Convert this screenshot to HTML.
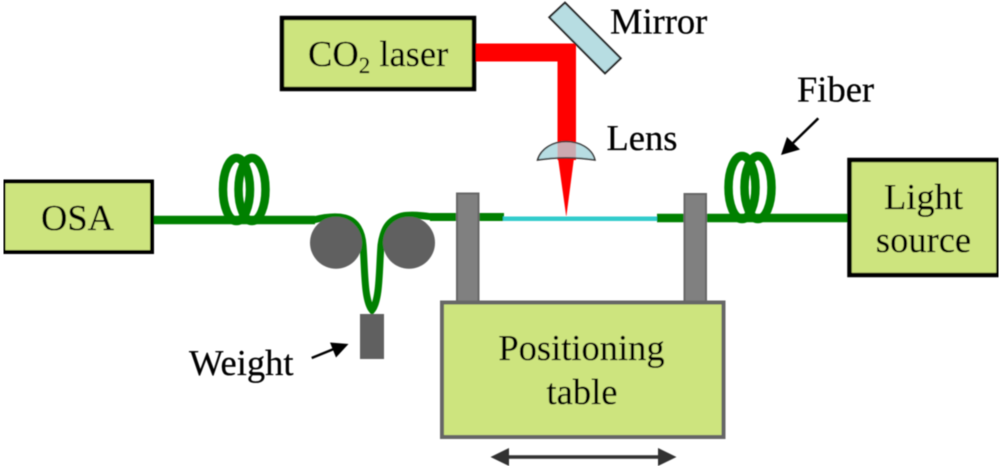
<!DOCTYPE html>
<html>
<head>
<meta charset="utf-8">
<style>
html,body{margin:0;padding:0;background:#fff;}
svg{display:block;}
text{font-family:"Liberation Serif",serif;font-size:36.5px;fill:#000;stroke:#000;stroke-width:0.25px;text-rendering:geometricPrecision;}
</style>
</head>
<body>
<svg width="1000" height="467" viewBox="0 0 1000 467" xmlns="http://www.w3.org/2000/svg">
<defs>
<clipPath id="lc"><path d="M537.5 160 C541 148 554 141.5 566 141.5 C579 141.5 592 148 595 160 C575 157 557 157 537.5 160 Z"/></clipPath>
<filter id="b" x="0" y="0" width="100%" height="100%"><feGaussianBlur stdDeviation="0.45"/></filter>
</defs>
<g filter="url(#b)">
<!-- fibers -->
<path d="M153 220 H315" stroke="#008000" stroke-width="8.5" fill="none"/>
<path d="M313 220 C325 217 337 216 345 218 C357 221 362 232 363 245 C365 270 364 300 372 310 C380 300 379 270 381 245 C383 230 388 220 402 216 C412 214 425 216 433 217" stroke="#008000" stroke-width="7" fill="none"/>
<path d="M430 217 H504" stroke="#008000" stroke-width="8" fill="none"/>
<path d="M657 218 H848" stroke="#008000" stroke-width="8.5" fill="none"/>
<path d="M503 218.7 H657" stroke="#33cccc" stroke-width="4.5" fill="none"/>
<!-- coils -->
<g fill="none" stroke="#008000" stroke-width="8.5">
<ellipse cx="236.5" cy="189.5" rx="13.5" ry="31.5"/>
<ellipse cx="252" cy="189.5" rx="13.5" ry="31.5"/>
<ellipse cx="742" cy="187.5" rx="13.5" ry="31.5"/>
<ellipse cx="758" cy="187.5" rx="13.5" ry="31.5"/>
</g>
<!-- rollers and weight -->
<circle cx="336" cy="242.7" r="26" fill="#606060"/>
<circle cx="409" cy="242.7" r="26" fill="#606060"/>
<rect x="360" y="314" width="24" height="45" fill="#606060"/>
<path d="M311.7 358 L335 348.5" stroke="#000" stroke-width="2.5" fill="none"/>
<polygon points="348.5,344 330,342.5 336,357.5" fill="#000"/>
<!-- Fiber arrow -->
<path d="M818.3 118.3 L793 143" stroke="#000" stroke-width="2.5" fill="none"/>
<polygon points="781,155 787,137 800,149.5" fill="#000"/>
<!-- posts -->
<rect x="457" y="193.5" width="21.5" height="108" fill="#808080" stroke="#666" stroke-width="2"/>
<rect x="684.5" y="194" width="21.5" height="108" fill="#808080" stroke="#666" stroke-width="2"/>
<!-- boxes -->
<rect x="3.5" y="181.5" width="148.5" height="70.5" fill="#cde47e" stroke="#000" stroke-width="4"/>
<rect x="282" y="18" width="192" height="71" fill="#cde47e" stroke="#000" stroke-width="4.5"/>
<rect x="849.5" y="160" width="149" height="115" fill="#cde47e" stroke="#000" stroke-width="4.5"/>
<rect x="442" y="302.5" width="281.5" height="134.5" fill="#cde47e" stroke="#666" stroke-width="4"/>
<!-- double arrow -->
<path d="M505 457 H662" stroke="#333" stroke-width="3.5" fill="none"/>
<polygon points="490.5,457 509,448 509,466" fill="#333"/>
<polygon points="676.5,457 658,448 658,466" fill="#333"/>
<!-- laser beam -->
<polygon points="476,43.5 576,43.5 576,160 557.5,160 557.5,61.5 476,61.5" fill="#ff0000"/>
<polygon points="558,158 574,158 566.3,217" fill="#ff0000"/>
<!-- mirror -->
<polygon points="565,2.7 620.7,58.3 605,73.3 549.3,17.3" fill="#b7dde2" stroke="#222" stroke-width="2"/>
<!-- lens -->
<path d="M537.5 160 C541 148 554 141.5 566 141.5 C579 141.5 592 148 595 160 C575 157 557 157 537.5 160 Z" fill="#b7dde2"/>
<rect x="557.5" y="140" width="18.5" height="20" fill="#cbaab0" clip-path="url(#lc)"/>
<path d="M537.5 160 C541 148 554 141.5 566 141.5 C579 141.5 592 148 595 160 C575 157 557 157 537.5 160 Z" fill="none" stroke="#333" stroke-width="1.5"/>
<!-- labels -->
<text x="41" y="230">OSA</text>
<text x="308" y="66">CO<tspan font-size="23" dy="7">2</tspan><tspan dy="-7"> laser</tspan></text>
<text x="610" y="33.5">Mirror</text>
<text x="606.5" y="150">Lens</text>
<text x="797" y="101.5">Fiber</text>
<text x="923.5" y="209" text-anchor="middle">Light</text>
<text x="923.5" y="252" text-anchor="middle">source</text>
<text x="581.5" y="360" text-anchor="middle">Positioning</text>
<text x="582" y="404" text-anchor="middle">table</text>
<text x="189" y="375">Weight</text>
</g>
</svg>
</body>
</html>
